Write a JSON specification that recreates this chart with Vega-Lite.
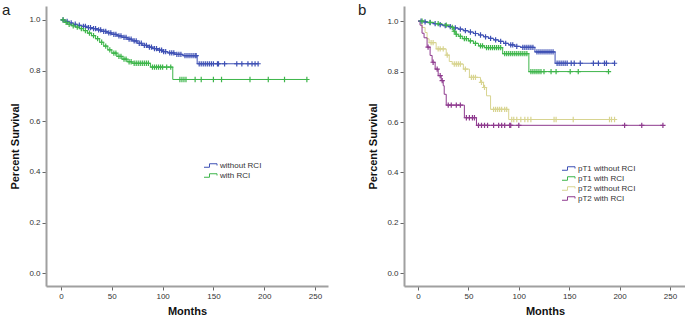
{
  "$schema": "https://vega.github.io/schema/vega-lite/v6.json",
  "background": "white",
  "padding": {"left": 2, "top": 2, "right": 0, "bottom": 0},
  "spacing": 29,
  "resolve": {"scale": {"color": "independent"}, "legend": {"color": "independent"}},
  "config": {
    "font": "Liberation Sans",
    "view": {"stroke": null},
    "axis": {
      "grid": false,
      "domainColor": "#a0a0a0",
      "domainWidth": 2,
      "tickColor": "#666666",
      "tickSize": 4,
      "tickWidth": 1,
      "labelFontSize": 8,
      "labelColor": "#333333",
      "labelPadding": 2,
      "titleFontSize": 11,
      "titleFontWeight": "bold",
      "titleColor": "#111111"
    },
    "axisY": {"titlePadding": 8},
    "axisX": {"titlePadding": 5},
    "legend": {
      "orient": "none",
      "title": null,
      "symbolType": "M-1.3,0.35H-0.2V-0.35H1.3V0",
      "symbolSize": 100,
      "symbolStrokeWidth": 1,
      "symbolFillColor": "transparent",
      "labelFontSize": 8,
      "labelColor": "#333333",
      "labelOffset": 4,
      "rowPadding": 0
    }
  },
  "hconcat": [
    {
      "width": 282,
      "height": 280,
      "layer": [
        {
          "data": {"values": [
            {"g":"without RCI","t":0,"s":1.0,"c":0},{"g":"without RCI","t":2,"s":1.0,"c":1},{"g":"without RCI","t":4,"s":0.994,"c":0},{"g":"without RCI","t":6,"s":0.994,"c":1},{"g":"without RCI","t":8,"s":0.988,"c":0},{"g":"without RCI","t":10,"s":0.988,"c":1},{"g":"without RCI","t":12,"s":0.983,"c":0},{"g":"without RCI","t":14,"s":0.983,"c":1},{"g":"without RCI","t":16,"s":0.979,"c":0},{"g":"without RCI","t":18,"s":0.979,"c":1},{"g":"without RCI","t":20,"s":0.975,"c":0},{"g":"without RCI","t":22,"s":0.975,"c":1},{"g":"without RCI","t":24,"s":0.975,"c":1},{"g":"without RCI","t":25,"s":0.970,"c":0},{"g":"without RCI","t":27,"s":0.970,"c":1},{"g":"without RCI","t":29,"s":0.970,"c":1},{"g":"without RCI","t":30,"s":0.966,"c":0},{"g":"without RCI","t":32,"s":0.966,"c":1},{"g":"without RCI","t":34,"s":0.966,"c":1},{"g":"without RCI","t":35,"s":0.961,"c":0},{"g":"without RCI","t":37,"s":0.961,"c":1},{"g":"without RCI","t":39,"s":0.961,"c":1},{"g":"without RCI","t":40,"s":0.955,"c":0},{"g":"without RCI","t":42,"s":0.955,"c":1},{"g":"without RCI","t":44,"s":0.955,"c":1},{"g":"without RCI","t":45,"s":0.949,"c":0},{"g":"without RCI","t":47,"s":0.949,"c":1},{"g":"without RCI","t":49,"s":0.949,"c":1},{"g":"without RCI","t":50,"s":0.943,"c":0},{"g":"without RCI","t":52,"s":0.943,"c":1},{"g":"without RCI","t":54,"s":0.943,"c":1},{"g":"without RCI","t":55,"s":0.937,"c":0},{"g":"without RCI","t":57,"s":0.937,"c":1},{"g":"without RCI","t":59,"s":0.937,"c":1},{"g":"without RCI","t":60,"s":0.931,"c":0},{"g":"without RCI","t":62,"s":0.931,"c":1},{"g":"without RCI","t":64,"s":0.931,"c":1},{"g":"without RCI","t":65,"s":0.924,"c":0},{"g":"without RCI","t":67,"s":0.924,"c":1},{"g":"without RCI","t":69,"s":0.924,"c":1},{"g":"without RCI","t":70,"s":0.917,"c":0},{"g":"without RCI","t":72,"s":0.917,"c":1},{"g":"without RCI","t":74,"s":0.917,"c":1},{"g":"without RCI","t":75,"s":0.908,"c":0},{"g":"without RCI","t":77,"s":0.908,"c":1},{"g":"without RCI","t":79,"s":0.908,"c":1},{"g":"without RCI","t":80,"s":0.900,"c":0},{"g":"without RCI","t":82,"s":0.900,"c":1},{"g":"without RCI","t":84,"s":0.900,"c":1},{"g":"without RCI","t":85,"s":0.893,"c":0},{"g":"without RCI","t":87,"s":0.893,"c":1},{"g":"without RCI","t":89,"s":0.893,"c":1},{"g":"without RCI","t":90,"s":0.887,"c":0},{"g":"without RCI","t":92,"s":0.887,"c":1},{"g":"without RCI","t":94,"s":0.887,"c":1},{"g":"without RCI","t":95,"s":0.881,"c":0},{"g":"without RCI","t":97,"s":0.881,"c":1},{"g":"without RCI","t":99,"s":0.881,"c":1},{"g":"without RCI","t":100,"s":0.875,"c":0},{"g":"without RCI","t":101,"s":0.875,"c":1},{"g":"without RCI","t":103,"s":0.875,"c":1},{"g":"without RCI","t":105,"s":0.870,"c":0},{"g":"without RCI","t":107,"s":0.870,"c":1},{"g":"without RCI","t":109,"s":0.870,"c":1},{"g":"without RCI","t":111,"s":0.870,"c":1},{"g":"without RCI","t":112,"s":0.864,"c":0},{"g":"without RCI","t":114,"s":0.864,"c":1},{"g":"without RCI","t":116,"s":0.864,"c":1},{"g":"without RCI","t":118,"s":0.864,"c":1},{"g":"without RCI","t":120,"s":0.859,"c":0},{"g":"without RCI","t":122,"s":0.859,"c":1},{"g":"without RCI","t":124,"s":0.859,"c":1},{"g":"without RCI","t":126,"s":0.859,"c":1},{"g":"without RCI","t":128,"s":0.859,"c":1},{"g":"without RCI","t":130,"s":0.859,"c":1},{"g":"without RCI","t":132,"s":0.859,"c":1},{"g":"without RCI","t":133,"s":0.859,"c":1},{"g":"without RCI","t":134,"s":0.827,"c":0},{"g":"without RCI","t":136,"s":0.827,"c":1},{"g":"without RCI","t":138,"s":0.827,"c":1},{"g":"without RCI","t":140,"s":0.827,"c":1},{"g":"without RCI","t":142,"s":0.827,"c":1},{"g":"without RCI","t":144,"s":0.827,"c":1},{"g":"without RCI","t":146,"s":0.827,"c":1},{"g":"without RCI","t":148,"s":0.827,"c":1},{"g":"without RCI","t":150,"s":0.827,"c":1},{"g":"without RCI","t":154,"s":0.827,"c":1},{"g":"without RCI","t":155,"s":0.827,"c":1},{"g":"without RCI","t":161,"s":0.827,"c":1},{"g":"without RCI","t":173,"s":0.827,"c":1},{"g":"without RCI","t":178,"s":0.827,"c":1},{"g":"without RCI","t":184,"s":0.827,"c":1},{"g":"without RCI","t":188,"s":0.827,"c":1},{"g":"without RCI","t":191,"s":0.827,"c":1},{"g":"without RCI","t":194,"s":0.827,"c":1},
            {"g":"with RCI","t":0,"s":1.0,"c":0},{"g":"with RCI","t":2,"s":1.0,"c":1},{"g":"with RCI","t":3,"s":0.990,"c":0},{"g":"with RCI","t":5,"s":0.990,"c":1},{"g":"with RCI","t":6,"s":0.983,"c":0},{"g":"with RCI","t":8,"s":0.983,"c":1},{"g":"with RCI","t":10,"s":0.977,"c":0},{"g":"with RCI","t":12,"s":0.977,"c":1},{"g":"with RCI","t":14,"s":0.972,"c":0},{"g":"with RCI","t":16,"s":0.972,"c":1},{"g":"with RCI","t":18,"s":0.966,"c":0},{"g":"with RCI","t":20,"s":0.966,"c":1},{"g":"with RCI","t":22,"s":0.958,"c":0},{"g":"with RCI","t":24,"s":0.958,"c":1},{"g":"with RCI","t":26,"s":0.948,"c":0},{"g":"with RCI","t":28,"s":0.948,"c":1},{"g":"with RCI","t":30,"s":0.938,"c":0},{"g":"with RCI","t":32,"s":0.938,"c":1},{"g":"with RCI","t":34,"s":0.926,"c":0},{"g":"with RCI","t":36,"s":0.926,"c":1},{"g":"with RCI","t":38,"s":0.912,"c":0},{"g":"with RCI","t":40,"s":0.912,"c":1},{"g":"with RCI","t":42,"s":0.897,"c":0},{"g":"with RCI","t":44,"s":0.897,"c":1},{"g":"with RCI","t":46,"s":0.882,"c":0},{"g":"with RCI","t":48,"s":0.882,"c":1},{"g":"with RCI","t":50,"s":0.869,"c":0},{"g":"with RCI","t":52,"s":0.869,"c":1},{"g":"with RCI","t":54,"s":0.869,"c":1},{"g":"with RCI","t":55,"s":0.856,"c":0},{"g":"with RCI","t":57,"s":0.856,"c":1},{"g":"with RCI","t":59,"s":0.856,"c":1},{"g":"with RCI","t":60,"s":0.845,"c":0},{"g":"with RCI","t":62,"s":0.845,"c":1},{"g":"with RCI","t":64,"s":0.845,"c":1},{"g":"with RCI","t":65,"s":0.835,"c":0},{"g":"with RCI","t":67,"s":0.835,"c":1},{"g":"with RCI","t":69,"s":0.835,"c":1},{"g":"with RCI","t":70,"s":0.829,"c":0},{"g":"with RCI","t":72,"s":0.829,"c":1},{"g":"with RCI","t":74,"s":0.829,"c":1},{"g":"with RCI","t":76,"s":0.829,"c":1},{"g":"with RCI","t":78,"s":0.829,"c":1},{"g":"with RCI","t":80,"s":0.829,"c":1},{"g":"with RCI","t":82,"s":0.829,"c":1},{"g":"with RCI","t":84,"s":0.829,"c":1},{"g":"with RCI","t":86,"s":0.829,"c":1},{"g":"with RCI","t":88,"s":0.814,"c":0},{"g":"with RCI","t":90,"s":0.814,"c":1},{"g":"with RCI","t":92,"s":0.814,"c":1},{"g":"with RCI","t":94,"s":0.814,"c":1},{"g":"with RCI","t":96,"s":0.814,"c":1},{"g":"with RCI","t":98,"s":0.814,"c":1},{"g":"with RCI","t":100,"s":0.814,"c":1},{"g":"with RCI","t":104,"s":0.814,"c":1},{"g":"with RCI","t":108,"s":0.814,"c":1},{"g":"with RCI","t":110,"s":0.765,"c":0},{"g":"with RCI","t":117,"s":0.765,"c":1},{"g":"with RCI","t":119,"s":0.765,"c":1},{"g":"with RCI","t":121,"s":0.765,"c":1},{"g":"with RCI","t":123,"s":0.765,"c":1},{"g":"with RCI","t":132,"s":0.765,"c":1},{"g":"with RCI","t":138,"s":0.765,"c":1},{"g":"with RCI","t":150,"s":0.765,"c":1},{"g":"with RCI","t":158,"s":0.765,"c":1},{"g":"with RCI","t":186,"s":0.765,"c":1},{"g":"with RCI","t":204,"s":0.765,"c":1},{"g":"with RCI","t":220,"s":0.765,"c":1},{"g":"with RCI","t":242,"s":0.765,"c":1}
          ]},
          "encoding": {
            "x": {"field": "t", "type": "quantitative", "scale": {"domain": [-14.8, 262.8], "nice": false, "zero": false}, "axis": {"values": [0, 50, 100, 150, 200, 250], "title": "Months"}},
            "y": {"field": "s", "type": "quantitative", "scale": {"domain": [-0.05, 1.055], "nice": false, "zero": false}, "axis": {"values": [0, 0.2, 0.4, 0.6, 0.8, 1], "format": ".1f", "title": "Percent Survival"}},
            "color": {"field": "g", "type": "nominal", "scale": {"domain": ["without RCI", "with RCI"], "range": ["#3E50B4", "#3DB54A"]}, "legend": {"legendX": 159, "legendY": 154}}
          },
          "layer": [
            {"mark": {"type": "line", "interpolate": "step-after", "strokeWidth": 1}, "encoding": {"order": {"field": "t"}}},
            {"transform": [{"filter": "datum.c == 1"}], "mark": {"type": "point", "shape": "M-1,0H1M0,-1V1", "filled": false, "size": 28, "strokeWidth": 1.2, "opacity": 1}}
          ]
        },
        {
          "data": {"values": [{"lab": "a"}]},
          "mark": {"type": "text", "align": "left", "baseline": "alphabetic", "fontSize": 15, "color": "#222222", "clip": false},
          "encoding": {"x": {"datum": -58}, "y": {"datum": 1.0195}, "text": {"field": "lab"}}
        }
      ]
    },
    {
      "width": 282,
      "height": 280,
      "layer": [
        {
          "data": {"values": [
            {"g":"pT1 without RCI","t":0,"s":1.0,"c":0},{"g":"pT1 without RCI","t":3,"s":1.0,"c":1},{"g":"pT1 without RCI","t":5,"s":0.997,"c":0},{"g":"pT1 without RCI","t":7,"s":0.997,"c":1},{"g":"pT1 without RCI","t":10,"s":0.994,"c":0},{"g":"pT1 without RCI","t":12,"s":0.994,"c":1},{"g":"pT1 without RCI","t":15,"s":0.990,"c":0},{"g":"pT1 without RCI","t":17,"s":0.990,"c":1},{"g":"pT1 without RCI","t":20,"s":0.986,"c":0},{"g":"pT1 without RCI","t":22,"s":0.986,"c":1},{"g":"pT1 without RCI","t":25,"s":0.982,"c":0},{"g":"pT1 without RCI","t":27,"s":0.982,"c":1},{"g":"pT1 without RCI","t":30,"s":0.978,"c":0},{"g":"pT1 without RCI","t":32,"s":0.978,"c":1},{"g":"pT1 without RCI","t":35,"s":0.973,"c":0},{"g":"pT1 without RCI","t":37,"s":0.973,"c":1},{"g":"pT1 without RCI","t":40,"s":0.968,"c":0},{"g":"pT1 without RCI","t":42,"s":0.968,"c":1},{"g":"pT1 without RCI","t":45,"s":0.962,"c":0},{"g":"pT1 without RCI","t":47,"s":0.962,"c":1},{"g":"pT1 without RCI","t":50,"s":0.957,"c":0},{"g":"pT1 without RCI","t":52,"s":0.957,"c":1},{"g":"pT1 without RCI","t":55,"s":0.951,"c":0},{"g":"pT1 without RCI","t":57,"s":0.951,"c":1},{"g":"pT1 without RCI","t":60,"s":0.945,"c":0},{"g":"pT1 without RCI","t":62,"s":0.945,"c":1},{"g":"pT1 without RCI","t":65,"s":0.938,"c":0},{"g":"pT1 without RCI","t":67,"s":0.938,"c":1},{"g":"pT1 without RCI","t":70,"s":0.932,"c":0},{"g":"pT1 without RCI","t":72,"s":0.932,"c":1},{"g":"pT1 without RCI","t":75,"s":0.926,"c":0},{"g":"pT1 without RCI","t":77,"s":0.926,"c":1},{"g":"pT1 without RCI","t":80,"s":0.920,"c":0},{"g":"pT1 without RCI","t":82,"s":0.920,"c":1},{"g":"pT1 without RCI","t":85,"s":0.912,"c":0},{"g":"pT1 without RCI","t":87,"s":0.912,"c":1},{"g":"pT1 without RCI","t":90,"s":0.906,"c":0},{"g":"pT1 without RCI","t":92,"s":0.906,"c":1},{"g":"pT1 without RCI","t":94,"s":0.906,"c":1},{"g":"pT1 without RCI","t":96,"s":0.900,"c":0},{"g":"pT1 without RCI","t":98,"s":0.900,"c":1},{"g":"pT1 without RCI","t":102,"s":0.896,"c":0},{"g":"pT1 without RCI","t":104,"s":0.896,"c":1},{"g":"pT1 without RCI","t":106,"s":0.896,"c":1},{"g":"pT1 without RCI","t":108,"s":0.896,"c":1},{"g":"pT1 without RCI","t":110,"s":0.896,"c":1},{"g":"pT1 without RCI","t":112,"s":0.896,"c":1},{"g":"pT1 without RCI","t":114,"s":0.896,"c":1},{"g":"pT1 without RCI","t":116,"s":0.878,"c":0},{"g":"pT1 without RCI","t":118,"s":0.878,"c":1},{"g":"pT1 without RCI","t":120,"s":0.878,"c":1},{"g":"pT1 without RCI","t":122,"s":0.878,"c":1},{"g":"pT1 without RCI","t":124,"s":0.878,"c":1},{"g":"pT1 without RCI","t":126,"s":0.878,"c":1},{"g":"pT1 without RCI","t":128,"s":0.878,"c":1},{"g":"pT1 without RCI","t":130,"s":0.878,"c":1},{"g":"pT1 without RCI","t":132,"s":0.878,"c":1},{"g":"pT1 without RCI","t":134,"s":0.878,"c":1},{"g":"pT1 without RCI","t":136,"s":0.833,"c":0},{"g":"pT1 without RCI","t":138,"s":0.833,"c":1},{"g":"pT1 without RCI","t":140,"s":0.833,"c":1},{"g":"pT1 without RCI","t":142,"s":0.833,"c":1},{"g":"pT1 without RCI","t":144,"s":0.833,"c":1},{"g":"pT1 without RCI","t":146,"s":0.833,"c":1},{"g":"pT1 without RCI","t":148,"s":0.833,"c":1},{"g":"pT1 without RCI","t":152,"s":0.833,"c":1},{"g":"pT1 without RCI","t":155,"s":0.833,"c":1},{"g":"pT1 without RCI","t":161,"s":0.833,"c":1},{"g":"pT1 without RCI","t":174,"s":0.833,"c":1},{"g":"pT1 without RCI","t":179,"s":0.833,"c":1},{"g":"pT1 without RCI","t":185,"s":0.833,"c":1},{"g":"pT1 without RCI","t":187,"s":0.833,"c":1},{"g":"pT1 without RCI","t":195,"s":0.833,"c":1},
            {"g":"pT1 with RCI","t":0,"s":1.0,"c":0},{"g":"pT1 with RCI","t":4,"s":1.0,"c":1},{"g":"pT1 with RCI","t":8,"s":0.995,"c":0},{"g":"pT1 with RCI","t":12,"s":0.995,"c":1},{"g":"pT1 with RCI","t":16,"s":0.990,"c":0},{"g":"pT1 with RCI","t":20,"s":0.990,"c":1},{"g":"pT1 with RCI","t":24,"s":0.984,"c":0},{"g":"pT1 with RCI","t":28,"s":0.984,"c":1},{"g":"pT1 with RCI","t":32,"s":0.975,"c":0},{"g":"pT1 with RCI","t":34,"s":0.975,"c":1},{"g":"pT1 with RCI","t":35,"s":0.960,"c":0},{"g":"pT1 with RCI","t":36,"s":0.960,"c":1},{"g":"pT1 with RCI","t":37,"s":0.948,"c":0},{"g":"pT1 with RCI","t":38,"s":0.948,"c":1},{"g":"pT1 with RCI","t":40,"s":0.940,"c":0},{"g":"pT1 with RCI","t":42,"s":0.940,"c":1},{"g":"pT1 with RCI","t":44,"s":0.931,"c":0},{"g":"pT1 with RCI","t":46,"s":0.931,"c":1},{"g":"pT1 with RCI","t":48,"s":0.931,"c":1},{"g":"pT1 with RCI","t":50,"s":0.922,"c":0},{"g":"pT1 with RCI","t":52,"s":0.922,"c":1},{"g":"pT1 with RCI","t":55,"s":0.912,"c":0},{"g":"pT1 with RCI","t":57,"s":0.912,"c":1},{"g":"pT1 with RCI","t":60,"s":0.902,"c":0},{"g":"pT1 with RCI","t":62,"s":0.902,"c":1},{"g":"pT1 with RCI","t":64,"s":0.902,"c":1},{"g":"pT1 with RCI","t":66,"s":0.895,"c":0},{"g":"pT1 with RCI","t":68,"s":0.895,"c":1},{"g":"pT1 with RCI","t":70,"s":0.895,"c":1},{"g":"pT1 with RCI","t":72,"s":0.895,"c":1},{"g":"pT1 with RCI","t":74,"s":0.895,"c":1},{"g":"pT1 with RCI","t":76,"s":0.895,"c":1},{"g":"pT1 with RCI","t":78,"s":0.895,"c":1},{"g":"pT1 with RCI","t":80,"s":0.895,"c":1},{"g":"pT1 with RCI","t":82,"s":0.895,"c":1},{"g":"pT1 with RCI","t":84,"s":0.871,"c":0},{"g":"pT1 with RCI","t":86,"s":0.871,"c":1},{"g":"pT1 with RCI","t":88,"s":0.871,"c":1},{"g":"pT1 with RCI","t":90,"s":0.871,"c":1},{"g":"pT1 with RCI","t":92,"s":0.871,"c":1},{"g":"pT1 with RCI","t":94,"s":0.871,"c":1},{"g":"pT1 with RCI","t":96,"s":0.871,"c":1},{"g":"pT1 with RCI","t":98,"s":0.871,"c":1},{"g":"pT1 with RCI","t":100,"s":0.871,"c":1},{"g":"pT1 with RCI","t":102,"s":0.871,"c":1},{"g":"pT1 with RCI","t":104,"s":0.871,"c":1},{"g":"pT1 with RCI","t":106,"s":0.871,"c":1},{"g":"pT1 with RCI","t":108,"s":0.871,"c":1},{"g":"pT1 with RCI","t":110,"s":0.800,"c":0},{"g":"pT1 with RCI","t":112,"s":0.800,"c":1},{"g":"pT1 with RCI","t":114,"s":0.800,"c":1},{"g":"pT1 with RCI","t":116,"s":0.800,"c":1},{"g":"pT1 with RCI","t":118,"s":0.800,"c":1},{"g":"pT1 with RCI","t":120,"s":0.800,"c":1},{"g":"pT1 with RCI","t":122,"s":0.800,"c":1},{"g":"pT1 with RCI","t":125,"s":0.800,"c":1},{"g":"pT1 with RCI","t":132,"s":0.800,"c":1},{"g":"pT1 with RCI","t":137,"s":0.800,"c":1},{"g":"pT1 with RCI","t":151,"s":0.800,"c":1},{"g":"pT1 with RCI","t":159,"s":0.800,"c":1},{"g":"pT1 with RCI","t":189,"s":0.800,"c":1},
            {"g":"pT2 without RCI","t":0,"s":1.0,"c":0},{"g":"pT2 without RCI","t":4,"s":0.975,"c":0},{"g":"pT2 without RCI","t":7,"s":0.955,"c":0},{"g":"pT2 without RCI","t":9,"s":0.930,"c":0},{"g":"pT2 without RCI","t":11,"s":0.915,"c":0},{"g":"pT2 without RCI","t":13,"s":0.915,"c":1},{"g":"pT2 without RCI","t":15,"s":0.915,"c":1},{"g":"pT2 without RCI","t":18,"s":0.890,"c":0},{"g":"pT2 without RCI","t":20,"s":0.890,"c":1},{"g":"pT2 without RCI","t":22,"s":0.890,"c":1},{"g":"pT2 without RCI","t":25,"s":0.890,"c":1},{"g":"pT2 without RCI","t":28,"s":0.865,"c":0},{"g":"pT2 without RCI","t":29,"s":0.865,"c":1},{"g":"pT2 without RCI","t":31,"s":0.840,"c":0},{"g":"pT2 without RCI","t":34,"s":0.830,"c":0},{"g":"pT2 without RCI","t":36,"s":0.830,"c":1},{"g":"pT2 without RCI","t":38,"s":0.830,"c":1},{"g":"pT2 without RCI","t":40,"s":0.830,"c":1},{"g":"pT2 without RCI","t":42,"s":0.830,"c":1},{"g":"pT2 without RCI","t":45,"s":0.810,"c":0},{"g":"pT2 without RCI","t":47,"s":0.810,"c":1},{"g":"pT2 without RCI","t":51,"s":0.777,"c":0},{"g":"pT2 without RCI","t":53,"s":0.777,"c":1},{"g":"pT2 without RCI","t":55,"s":0.777,"c":1},{"g":"pT2 without RCI","t":57,"s":0.777,"c":1},{"g":"pT2 without RCI","t":62,"s":0.757,"c":0},{"g":"pT2 without RCI","t":63,"s":0.757,"c":1},{"g":"pT2 without RCI","t":65,"s":0.737,"c":0},{"g":"pT2 without RCI","t":66,"s":0.737,"c":1},{"g":"pT2 without RCI","t":68,"s":0.704,"c":0},{"g":"pT2 without RCI","t":72,"s":0.650,"c":0},{"g":"pT2 without RCI","t":75,"s":0.650,"c":1},{"g":"pT2 without RCI","t":77,"s":0.650,"c":1},{"g":"pT2 without RCI","t":79,"s":0.650,"c":1},{"g":"pT2 without RCI","t":81,"s":0.650,"c":1},{"g":"pT2 without RCI","t":83,"s":0.650,"c":1},{"g":"pT2 without RCI","t":86,"s":0.650,"c":1},{"g":"pT2 without RCI","t":88,"s":0.650,"c":1},{"g":"pT2 without RCI","t":90,"s":0.610,"c":0},{"g":"pT2 without RCI","t":93,"s":0.610,"c":1},{"g":"pT2 without RCI","t":95,"s":0.610,"c":1},{"g":"pT2 without RCI","t":98,"s":0.610,"c":1},{"g":"pT2 without RCI","t":102,"s":0.610,"c":1},{"g":"pT2 without RCI","t":106,"s":0.610,"c":1},{"g":"pT2 without RCI","t":109,"s":0.610,"c":1},{"g":"pT2 without RCI","t":112,"s":0.610,"c":1},{"g":"pT2 without RCI","t":135,"s":0.610,"c":1},{"g":"pT2 without RCI","t":137,"s":0.610,"c":1},{"g":"pT2 without RCI","t":154,"s":0.610,"c":1},{"g":"pT2 without RCI","t":190,"s":0.610,"c":1},{"g":"pT2 without RCI","t":192,"s":0.610,"c":1},{"g":"pT2 without RCI","t":195,"s":0.610,"c":1},
            {"g":"pT2 with RCI","t":0,"s":1.0,"c":0},{"g":"pT2 with RCI","t":2,"s":0.984,"c":0},{"g":"pT2 with RCI","t":4,"s":0.952,"c":0},{"g":"pT2 with RCI","t":6,"s":0.934,"c":0},{"g":"pT2 with RCI","t":9,"s":0.897,"c":0},{"g":"pT2 with RCI","t":10,"s":0.897,"c":1},{"g":"pT2 with RCI","t":12,"s":0.864,"c":0},{"g":"pT2 with RCI","t":14,"s":0.837,"c":0},{"g":"pT2 with RCI","t":15,"s":0.837,"c":1},{"g":"pT2 with RCI","t":17,"s":0.810,"c":0},{"g":"pT2 with RCI","t":19,"s":0.810,"c":1},{"g":"pT2 with RCI","t":20,"s":0.784,"c":0},{"g":"pT2 with RCI","t":22,"s":0.784,"c":1},{"g":"pT2 with RCI","t":23,"s":0.764,"c":0},{"g":"pT2 with RCI","t":24,"s":0.764,"c":1},{"g":"pT2 with RCI","t":25,"s":0.744,"c":0},{"g":"pT2 with RCI","t":26,"s":0.710,"c":0},{"g":"pT2 with RCI","t":28,"s":0.667,"c":0},{"g":"pT2 with RCI","t":30,"s":0.667,"c":1},{"g":"pT2 with RCI","t":33,"s":0.667,"c":1},{"g":"pT2 with RCI","t":38,"s":0.667,"c":1},{"g":"pT2 with RCI","t":42,"s":0.667,"c":1},{"g":"pT2 with RCI","t":46,"s":0.617,"c":0},{"g":"pT2 with RCI","t":48,"s":0.617,"c":1},{"g":"pT2 with RCI","t":51,"s":0.617,"c":1},{"g":"pT2 with RCI","t":54,"s":0.617,"c":1},{"g":"pT2 with RCI","t":56,"s":0.617,"c":1},{"g":"pT2 with RCI","t":58,"s":0.587,"c":0},{"g":"pT2 with RCI","t":60,"s":0.587,"c":1},{"g":"pT2 with RCI","t":63,"s":0.587,"c":1},{"g":"pT2 with RCI","t":66,"s":0.587,"c":1},{"g":"pT2 with RCI","t":69,"s":0.587,"c":1},{"g":"pT2 with RCI","t":75,"s":0.587,"c":1},{"g":"pT2 with RCI","t":80,"s":0.587,"c":1},{"g":"pT2 with RCI","t":83,"s":0.587,"c":1},{"g":"pT2 with RCI","t":86,"s":0.587,"c":1},{"g":"pT2 with RCI","t":91,"s":0.587,"c":1},{"g":"pT2 with RCI","t":92,"s":0.587,"c":1},{"g":"pT2 with RCI","t":100,"s":0.587,"c":1},{"g":"pT2 with RCI","t":205,"s":0.587,"c":1},{"g":"pT2 with RCI","t":222,"s":0.587,"c":1},{"g":"pT2 with RCI","t":243,"s":0.587,"c":1}
          ]},
          "encoding": {
            "x": {"field": "t", "type": "quantitative", "scale": {"domain": [-13.9, 265.9], "nice": false, "zero": false}, "axis": {"values": [0, 50, 100, 150, 200, 250], "title": "Months"}},
            "y": {"field": "s", "type": "quantitative", "scale": {"domain": [-0.05, 1.06], "nice": false, "zero": false}, "axis": {"values": [0, 0.2, 0.4, 0.6, 0.8, 1], "format": ".1f", "title": "Percent Survival"}},
            "color": {"field": "g", "type": "nominal", "scale": {"domain": ["pT1 without RCI", "pT1 with RCI", "pT2 without RCI", "pT2 with RCI"], "range": ["#3E50B4", "#3DB54A", "#D8D490", "#8E3A8E"]}, "legend": {"legendX": 159, "legendY": 157}}
          },
          "layer": [
            {"mark": {"type": "line", "interpolate": "step-after", "strokeWidth": 1}, "encoding": {"order": {"field": "t"}}},
            {"transform": [{"filter": "datum.c == 1"}], "mark": {"type": "point", "shape": "M-1,0H1M0,-1V1", "filled": false, "size": 28, "strokeWidth": 1.2, "opacity": 1}}
          ]
        },
        {
          "data": {"values": [{"lab": "b"}]},
          "mark": {"type": "text", "align": "left", "baseline": "alphabetic", "fontSize": 15, "color": "#222222", "clip": false},
          "encoding": {"x": {"datum": -59.6}, "y": {"datum": 1.024}, "text": {"field": "lab"}}
        }
      ]
    }
  ]
}
